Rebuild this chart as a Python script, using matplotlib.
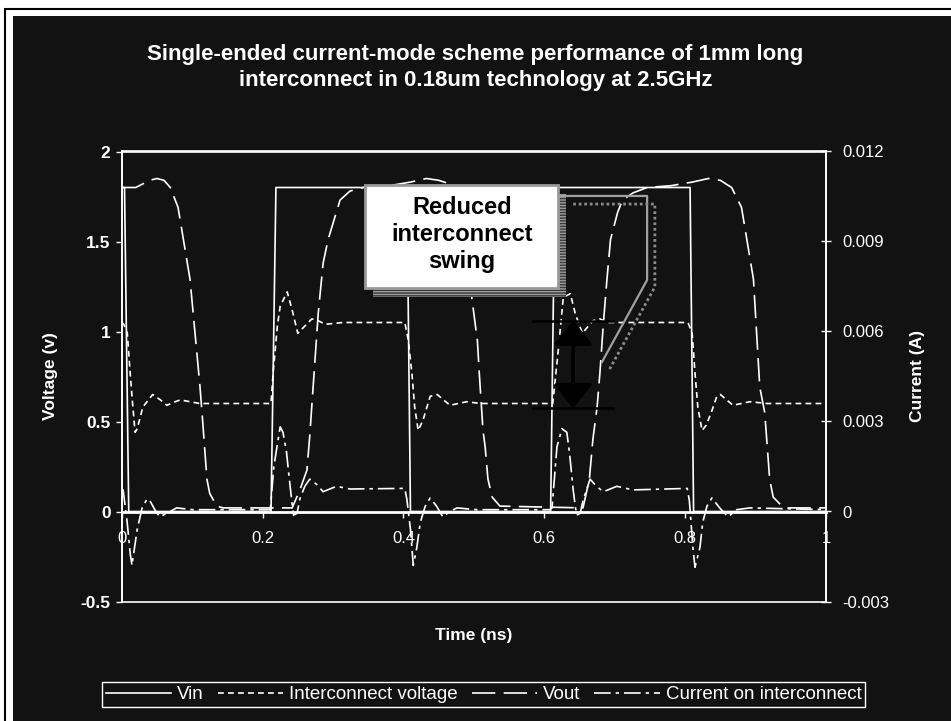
import numpy as np
import matplotlib.pyplot as plt
from matplotlib.patches import Rectangle, FancyArrowPatch

plt.rcParams['font.family'] = ['Liberation Sans', 'DejaVu Sans']

# time in ns, voltages in V, current in mA
vin_t = [0, 0.004, 0.010, 0.212, 0.219, 0.405, 0.410, 0.609, 0.615, 0.807, 0.812, 1.0]
vin_v = [1.8, 1.8, 0.0, 0.0, 1.8, 1.8, 0.0, 0.0, 1.8, 1.8, 0.0, 0.0]

vic_t = [0, 0.003, 0.008, 0.012, 0.015, 0.019, 0.022, 0.030, 0.044, 0.055, 0.064, 0.076, 0.083,
         0.097, 0.111, 0.212, 0.215, 0.221, 0.225, 0.235, 0.242, 0.250, 0.260, 0.270, 0.279,
         0.289, 0.314, 0.402, 0.407, 0.412, 0.416, 0.421, 0.428, 0.438, 0.448, 0.466, 0.490,
         0.509, 0.612, 0.620, 0.627, 0.637, 0.644, 0.654, 0.669, 0.679, 0.689, 0.804, 0.810,
         0.814, 0.818, 0.824, 0.830, 0.838, 0.845, 0.850, 0.868, 0.892, 0.916, 1.0]
vic_v = [1.05, 1.04, 0.99, 0.77, 0.62, 0.44, 0.46, 0.58, 0.65, 0.62, 0.59, 0.61, 0.62,
         0.61, 0.60, 0.60, 0.77, 1.03, 1.14, 1.22, 1.12, 0.99, 1.03, 1.07, 1.06,
         1.04, 1.05, 1.05, 0.95, 0.77, 0.58, 0.45, 0.51, 0.64, 0.65, 0.59, 0.61,
         0.60, 0.60, 0.90, 1.19, 1.21, 1.10, 0.99, 1.06, 1.07, 1.05, 1.05, 0.99,
         0.77, 0.58, 0.45, 0.48, 0.56, 0.64, 0.65, 0.59, 0.61, 0.60, 0.60]

vout_t = [0, 0.020, 0.030, 0.040, 0.050, 0.060, 0.069, 0.080, 0.097, 0.111, 0.115, 0.121,
          0.125, 0.135, 0.144, 0.242, 0.253, 0.263, 0.267, 0.279, 0.286, 0.293, 0.310, 0.324,
          0.343, 0.380, 0.410, 0.433, 0.450, 0.466, 0.483, 0.490, 0.497, 0.505, 0.508, 0.513,
          0.516, 0.520, 0.526, 0.537, 0.655, 0.664, 0.669, 0.675, 0.679, 0.684, 0.689, 0.694,
          0.704, 0.711, 0.726, 0.746, 0.780, 0.810, 0.833, 0.850, 0.866, 0.880, 0.897, 0.906,
          0.913, 0.920, 0.925, 0.935, 0.944, 1.0]
vout_v = [1.80, 1.80, 1.82, 1.84, 1.85, 1.84, 1.80, 1.69, 1.29, 0.70, 0.50, 0.18,
          0.10, 0.03, 0.02, 0.02, 0.12, 0.23, 0.42, 1.10, 1.38, 1.51, 1.73, 1.78,
          1.80, 1.81, 1.83, 1.85, 1.84, 1.82, 1.78, 1.64, 1.19, 0.95, 0.75, 0.45,
          0.36, 0.18, 0.08, 0.03, 0.02, 0.18, 0.40, 0.58, 0.77, 1.05, 1.29, 1.51,
          1.66, 1.73, 1.77, 1.80, 1.81, 1.83, 1.85, 1.84, 1.80, 1.69, 1.29, 0.69,
          0.55, 0.18, 0.08, 0.04, 0.02, 0.02]

cur_t = [0, 0.002, 0.0075, 0.012, 0.0146, 0.016, 0.022, 0.029, 0.036, 0.040, 0.047, 0.054,
         0.064, 0.078, 0.101, 0.211, 0.216, 0.225, 0.229, 0.234, 0.238, 0.242, 0.244, 0.249,
         0.253, 0.260, 0.267, 0.277, 0.286, 0.305, 0.324, 0.402, 0.405, 0.410, 0.414, 0.419,
         0.424, 0.431, 0.438, 0.447, 0.456, 0.466, 0.476, 0.504, 0.608, 0.611, 0.618, 0.625,
         0.632, 0.636, 0.641, 0.644, 0.646, 0.651, 0.655, 0.665, 0.674, 0.684, 0.703, 0.726,
         0.803, 0.806, 0.811, 0.814, 0.821, 0.825, 0.831, 0.838, 0.849, 0.861, 0.873, 0.892, 1.0]
cur_ma = [0.72, 0.72, -0.30, -1.38, -1.80, -1.56, -0.60, 0.12, 0.42, 0.36, 0.06, -0.18,
          -0.06, 0.12, 0.06, 0.06, 1.50, 2.82, 2.64, 1.98, 1.08, 0.24, -0.12, -0.06,
          0.42, 0.84, 1.08, 0.90, 0.66, 0.84, 0.75, 0.77, 0.39, -0.60, -1.80, -1.20,
          -0.36, 0.18, 0.45, 0.18, -0.18, 0.0, 0.12, 0.06, 0.06, 0.12, 2.16, 2.76,
          2.64, 1.92, 0.72, 0.18, -0.12, -0.06, 0.36, 1.08, 0.84, 0.66, 0.84, 0.72,
          0.77, 0.36, -1.20, -1.86, -1.20, -0.36, 0.18, 0.45, 0.12, -0.18, 0.06, 0.12, 0.06]

x_ticks = [0, 0.2, 0.4, 0.6, 0.8, 1.0]
x_labels = ['0', '0.2', '0.4', '0.6', '0.8', '1']
v_ticks = [-0.5, 0, 0.5, 1, 1.5, 2]
v_labels = ['-0.5', '0', '0.5', '1', '1.5', '2']
i_ticks = [-0.003, 0, 0.003, 0.006, 0.009, 0.012]
i_labels = ['-0.003', '0', '0.003', '0.006', '0.009', '0.012']

bg = '#121212'
fg = 'white'
W, H = 951, 721

fig = plt.figure(figsize=(W / 100, H / 100), dpi=100, facecolor='white')
fig.add_artist(Rectangle((13 / W, 0), 1, 1 - 16 / H, transform=fig.transFigure,
                         facecolor=bg, edgecolor='none', zorder=-10))
fig.add_artist(Rectangle((5 / W, -0.05), 1, 1.05 - 9 / H, transform=fig.transFigure,
                         fill=False, edgecolor='black', lw=1.5, zorder=-9))

ax = fig.add_axes([121.7 / W, 1 - 601.5 / H, (826 - 121.7) / W, 450 / H])
ax.set_facecolor('none')

l1, = ax.plot(vin_t, vin_v, color=fg, lw=1.2, label='Vin')
l2, = ax.plot(vic_t, vic_v, color=fg, lw=1.2, dashes=(3.5, 2.5), label='Interconnect voltage')
l3, = ax.plot(vout_t, vout_v, color=fg, lw=1.2, dashes=(14, 5), label='Vout')

ax2 = ax.twinx()
l4, = ax2.plot(cur_t, np.array(cur_ma) / 1000, color=fg, lw=1.2, dashes=(10, 3, 2, 3),
               label='Current on interconnect')

ax.set_xlim(0, 1)
ax.set_ylim(-0.5, 2)
ax2.set_ylim(-0.003, 0.012)

ax.set_xticks(x_ticks)
ax.set_xticklabels(x_labels)
ax.set_yticks(v_ticks)
ax.set_yticklabels(v_labels, fontweight='bold')
ax2.set_yticks(i_ticks)
ax2.set_yticklabels(i_labels)

for a in (ax, ax2):
    for s in a.spines.values():
        s.set_color(fg)
        s.set_linewidth(1.2)
ax.spines['bottom'].set_position(('data', 0))
ax.spines['bottom'].set_linewidth(2)

ax.tick_params(axis='x', colors=fg, direction='out', length=4, width=1, pad=10, labelsize=12)
ax.tick_params(axis='y', colors=fg, direction='out', length=4, width=1, pad=4, labelsize=12.5)
ax2.tick_params(axis='y', colors=fg, direction='inout', length=7, width=1, pad=8, labelsize=12)

ax.set_xlabel('Time (ns)', fontsize=12.5, fontweight='bold', color=fg)
ax.xaxis.set_label_coords(0.5, -0.059)
ax.set_ylabel('Voltage (v)', fontsize=12.5, fontweight='bold', color=fg)
ax.yaxis.set_label_coords(-0.0904, 0.5)
ax2.set_ylabel('Current (A)', fontsize=12.5, fontweight='bold', color=fg)
ax2.yaxis.set_label_coords(1.119, 0.5)

fig.text(0.5, 1 - 67.5 / H,
         'Single-ended current-mode scheme performance of 1mm long\n'
         'interconnect in 0.18um technology at 2.5GHz',
         ha='center', va='center', fontsize=16, fontweight='bold', color=fg, linespacing=1.32)

# callout box with striped drop shadow
box_x, box_y, box_w, box_h = 0.346, 1.242, 0.274, 0.572
ax2.add_patch(Rectangle((box_x + 0.011, box_y - 0.05), box_w, box_h, transform=ax.transData,
                        facecolor='#9a9a9a', edgecolor='#3a3a3a', lw=0, hatch='------', zorder=5))
ax2.add_patch(Rectangle((box_x, box_y), box_w, box_h, transform=ax.transData,
                        facecolor='white', edgecolor='#9a9a9a', lw=2, zorder=6))
ax2.text(box_x + box_w / 2, box_y + box_h / 2 + 0.01, 'Reduced\ninterconnect\nswing',
         transform=ax.transData, ha='center', va='center', fontsize=17,
         fontweight='bold', color='black', linespacing=1.22, zorder=7)

# leader lines from the box to the swing marker
ax2.plot([0.620, 0.746, 0.746, 0.682], [1.753, 1.753, 1.286, 0.831], transform=ax.transData,
         color='#a0a0a0', lw=1.6, zorder=5)
ax2.plot([0.641, 0.757, 0.757, 0.692], [1.708, 1.708, 1.247, 0.786], transform=ax.transData,
         color='#8a8a8a', lw=2, dashes=(1, 1), zorder=5)

# swing marker
ax2.plot([0.584, 0.698], [1.061, 1.061], transform=ax.transData, color='black', lw=1.8, zorder=8)
ax2.plot([0.584, 0.698], [0.573, 0.573], transform=ax.transData, color='black', lw=1.8, zorder=8)
ax2.add_patch(FancyArrowPatch((0.641, 1.061), (0.641, 0.573), transform=ax.transData,
                              arrowstyle='<|-|>,head_length=1.5,head_width=1.2',
                              mutation_scale=10, color='black', lw=2.5,
                              shrinkA=0, shrinkB=0, zorder=8))

leg = fig.legend(handles=[l1, l2, l3, l4], loc='center', ncol=4,
                 bbox_to_anchor=(483.5 / W, 1 - 694.5 / H), bbox_transform=fig.transFigure,
                 fontsize=13.5, handlelength=3.5, handletextpad=0.3, columnspacing=0.75,
                 borderpad=0.2, fancybox=False, framealpha=1, facecolor=bg, edgecolor=fg,
                 labelcolor=fg)

fig.savefig('out.png', dpi=100, facecolor='white')
